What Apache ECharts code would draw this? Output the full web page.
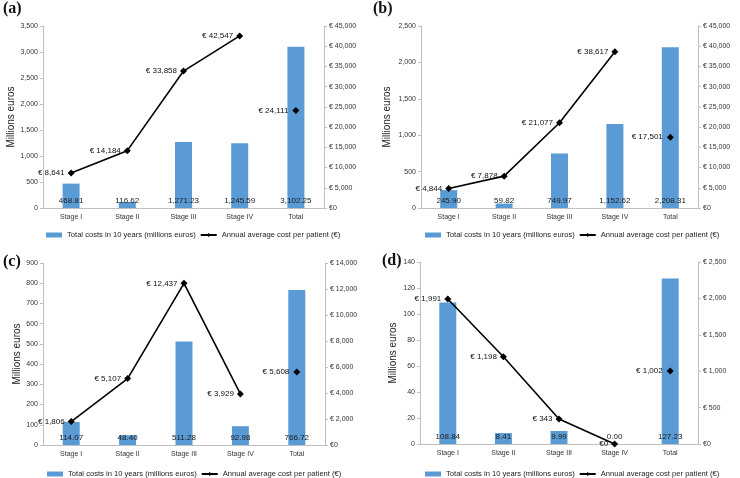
<!DOCTYPE html>
<html><head><meta charset="utf-8">
<script src="https://cdn.jsdelivr.net/npm/echarts@6/dist/echarts.min.js"></script>
<style>html,body{margin:0;padding:0;background:#fff}#c{width:740px;height:478px}</style>
</head><body><div id="c"></div>
<script>
const categories = ['Stage I','Stage II','Stage III','Stage IV','Total'];
const barName = 'Total costs in 10 years (millions euros)';
const lineName = 'Annual average cost per patient (€)';

const barsA = [468.81,116.62,1271.23,1245.59,3102.25];
const lineA = [8641,14184,33858,42547];
const totalA = 24111;
const barsB = [245.90,59.82,749.97,1152.62,2208.31];
const lineB = [4844,7878,21077,38617];
const totalB = 17501;
const barsC = [114.07,48.40,511.28,92.98,766.72];
const lineC = [1806,5107,12437,3929];
const totalC = 5608;
const barsD = [108.84,8.41,9.99,0.00,127.23];
const lineD = [1991,1198,343,0];
const totalD = 1002;

const leftAxes = [[0,3500,500],[0,2500,500],[0,900,100],[0,140,20]];
const rightAxes = [[0,45000,5000],[0,45000,5000],[0,14000,2000],[0,2500,500]];
const panelLabels = ['(a)','(b)','(c)','(d)'];

const panels = [
  {bars:barsA,line:lineA,total:totalA},
  {bars:barsB,line:lineB,total:totalB},
  {bars:barsC,line:lineC,total:totalC},
  {bars:barsD,line:lineD,total:totalD}
];
const grids = [
  {left:43,top:26,width:281,height:182},
  {left:421,top:26,width:277,height:182},
  {left:43,top:263,width:282,height:182},
  {left:420,top:262,width:278,height:182}
];
const nameGaps = [27,29,18,22];
const legendPos = [{left:41,top:226},{left:420,top:226},{left:42,top:465},{left:420,top:465}];
const labelPos = [{x:3,y:1},{x:373,y:1},{x:3,y:254},{x:382,y:253}];

const FONT = 'Liberation Sans';
const fmtEuro = v => v===0 ? '€0' : '€ ' + v.toLocaleString('en-US');
const fmtNum = v => v.toLocaleString('en-US');
const axisLineStyle = {show:true,lineStyle:{color:'#bfbfbf',width:1}};

const option = {
  animation:false,
  backgroundColor:'#fff',
  textStyle:{fontFamily:FONT},
  grid: grids,
  legend: legendPos.map(p => ({
    left:p.left, top:p.top, itemGap:4, itemWidth:16, itemHeight:5,
    textStyle:{fontSize:7.6,color:'#222',fontFamily:FONT},
    data:[{name:barName,icon:'rect'},{name:lineName}]
  })),
  xAxis: grids.map((g,i)=>({
    type:'category', gridIndex:i, data:categories,
    axisLine:axisLineStyle, axisTick:{show:false},
    axisLabel:{fontSize:7,color:'#333',margin:6,fontFamily:FONT}
  })),
  yAxis: [],
  series: [],
  graphic: panelLabels.map((t,i)=>({
    type:'text', left:labelPos[i].x, top:labelPos[i].y,
    style:{text:t,font:'bold 16px "Liberation Serif"',fill:'#111'}
  }))
};

panels.forEach((p,i)=>{
  const la = leftAxes[i], ra = rightAxes[i];
  option.yAxis.push({
    type:'value', gridIndex:i, min:la[0], max:la[1], interval:la[2],
    name:'Millions euros', nameLocation:'middle', nameGap:nameGaps[i],
    nameTextStyle:{fontSize:10,color:'#222',fontFamily:FONT},
    axisLine:axisLineStyle, axisTick:{show:true,length:3,lineStyle:{color:'#bfbfbf'}},
    splitLine:{show:false},
    axisLabel:{fontSize:7,color:'#333',margin:5,formatter:fmtNum,fontFamily:FONT}
  });
  option.yAxis.push({
    type:'value', gridIndex:i, position:'right', min:ra[0], max:ra[1], interval:ra[2],
    axisLine:axisLineStyle, axisTick:{show:true,length:3,lineStyle:{color:'#bfbfbf'}},
    splitLine:{show:false},
    axisLabel:{fontSize:7,color:'#333',margin:5,formatter:fmtEuro,fontFamily:FONT}
  });
  option.series.push({
    type:'bar', name:barName, xAxisIndex:i, yAxisIndex:2*i,
    data:p.bars, barWidth:17, itemStyle:{color:'#5b9bd5'},
    label:{show:true,position:'insideBottom',distance:3,fontSize:8,color:'#1a1a1a',
      fontFamily:FONT, formatter:d=>d.value.toFixed(2).replace(/\B(?=(\d{3})+(?!\d))/g,',')}
  });
  option.series.push({
    type:'line', name:lineName, xAxisIndex:i, yAxisIndex:2*i+1,
    data:p.line.concat([null]), symbol:'diamond', symbolSize:7,
    lineStyle:{color:'#000',width:1.6}, itemStyle:{color:'#000'},
    label:{show:true,position:'left',distance:3,fontSize:8,color:'#111',fontFamily:FONT,
      formatter:d=>fmtEuro(d.value)}
  });
  option.series.push({
    type:'line', name:lineName, xAxisIndex:i, yAxisIndex:2*i+1,
    data:[null,null,null,null,p.total], symbol:'diamond', symbolSize:7,
    lineStyle:{color:'#000',width:1.6}, itemStyle:{color:'#000'},
    label:{show:true,position:'left',distance:4,fontSize:8,color:'#111',fontFamily:FONT,
      formatter:d=>fmtEuro(d.value)}
  });
});

const chart = echarts.init(document.getElementById('c'),null,{renderer:'canvas'});
chart.setOption(option);
</script>
</body></html>
